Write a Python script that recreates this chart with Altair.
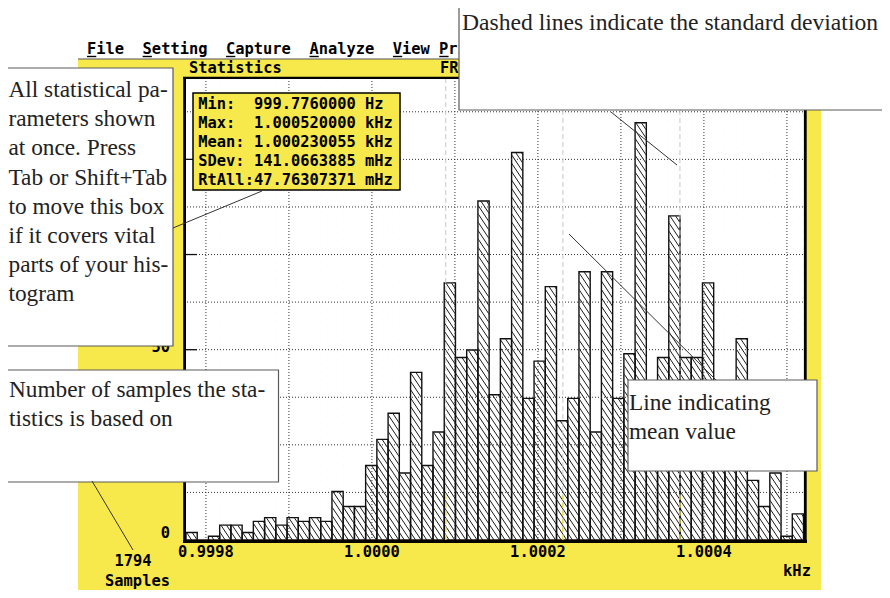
import altair as alt
import numpy as np
import pandas as pd

# ------------------------------------------------------------------ data
N_SAMPLES = 1794
MIN_HZ = 999.7760000
MAX_KHZ = 1.000520000
MEAN_KHZ = 1.000230055
SDEV_MHZ = 141.0663885
RTALL_MHZ = 47.76307371

# histogram counts per bin (55 bins from Min to Max)
COUNTS = [2, 0, 1, 4, 4, 2, 5, 6, 4, 6, 5, 6, 5, 13, 9, 9, 20, 27, 34, 18,
          45, 20, 29, 69, 49, 51, 91, 39, 54, 104, 38, 48, 68, 32, 38, 72,
          29, 72, 38, 50, 112, 20, 49, 87, 49, 49, 69, 19, 19, 54, 16, 9,
          18, 1, 7]
X_TICKS = [0.9998, 1.0000, 1.0002, 1.0004]
Y_TICKS = [0, 50]
MENU = ["File", "Setting", "Capture", "Analyze", "View", "Print"]

NOTE_PARAMS = ["All statistical pa-", "rameters shown", "at once. Press",
               "Tab or Shift+Tab", "to move this box", "if it covers vital",
               "parts of your his-", "togram"]
NOTE_SAMPLES = ["Number of samples the sta-", "tistics is based on"]
NOTE_MEAN = ["Line indicating", "mean value"]
NOTE_SDEV = "Dashed lines indicate the standard deviation"

# ------------------------------------------------------------------ layout
W, H = 620, 462
PAD = {"left": 178, "top": 70, "right": 76, "bottom": 50}
YELLOW = "#f7e84b"
MONO = "DejaVu Sans Mono"
SERIF = "Liberation Serif"
MONO_SIZE = 15.4
CHAR_W = 0.602 * MONO_SIZE
NOTE_SIZE = 23.3
NBSP = "\u00a0"
MIN_KHZ = MIN_HZ / 1000.0
X_DOMAIN = [MIN_KHZ, 1.000523]
Y_DOMAIN = [0, 124]
GRID_X_STEP = 0.0001
GRID_Y_STEP = 12.77
HATCH_SLOPE = 1.5
HATCH_STEP = 5.6

n_bins = len(COUNTS)
bin_w = (MAX_KHZ - MIN_KHZ) / n_bins
bars = pd.DataFrame({
    "x0": [MIN_KHZ + i * bin_w for i in range(n_bins)],
    "x1": [MIN_KHZ + (i + 1) * bin_w for i in range(n_bins)],
    "count": COUNTS,
    "base": 0.0,
    "top": float(Y_DOMAIN[1]),
})
tail = pd.DataFrame({"x0": [MAX_KHZ], "x1": [X_DOMAIN[1]], "y0": [0.0],
                     "y1": [float(Y_DOMAIN[1])]})

xs = alt.Scale(domain=X_DOMAIN, nice=False, zero=False)
ys = alt.Scale(domain=Y_DOMAIN, nice=False, zero=False)

# global hatch pattern ("\\\\"), screen-aligned, expressed in data units
cs = np.arange(-H / HATCH_SLOPE - HATCH_STEP, W + HATCH_STEP, HATCH_STEP)
kx = (X_DOMAIN[1] - X_DOMAIN[0]) / W
hatch = pd.DataFrame({
    "hx0": X_DOMAIN[0] + cs * kx,
    "hy0": np.full(len(cs), float(Y_DOMAIN[1])),
    "hx1": X_DOMAIN[0] + (cs + H / HATCH_SLOPE) * kx,
    "hy1": np.full(len(cs), float(Y_DOMAIN[0])),
})

grid_x = pd.DataFrame({"gx": [X_TICKS[0] + GRID_X_STEP * k for k in range(8)]})
grid_y = pd.DataFrame({"gy": [GRID_Y_STEP * k for k in range(1, 10)]})
major_y = pd.DataFrame({"gy": [GRID_Y_STEP * k for k in range(2, 10, 2)]})
sd_khz = SDEV_MHZ * 1e-6
stat_lines = pd.DataFrame({"sx": [MEAN_KHZ - sd_khz, MEAN_KHZ, MEAN_KHZ + sd_khz],
                           "y0": 0.0, "y1": 12.0})
x_labels = pd.DataFrame({"t": X_TICKS, "lab": [f"{v:.4f}" for v in X_TICKS]})
y_labels = pd.DataFrame({"t": Y_TICKS, "lab": [str(v) for v in Y_TICKS]})

DUMMY = pd.DataFrame({"k": [0]})


def mono(s):
    return s.replace(" ", NBSP)


def rect(x, y, x2, y2, fill, stroke=None, sw=0):
    kw = dict(fill=fill, strokeWidth=sw)
    if stroke:
        kw["stroke"] = stroke
    return alt.Chart(DUMMY).mark_rect(**kw).encode(
        x=alt.value(x), x2=alt.value(x2), y=alt.value(y), y2=alt.value(y2))


def seg(x, y, x2, y2, color, width):
    return alt.Chart(DUMMY).mark_rule(color=color, strokeWidth=width).encode(
        x=alt.value(x), x2=alt.value(x2), y=alt.value(y), y2=alt.value(y2))


def txt(x, y, lines, font, size, weight="normal", align="left",
        baseline="alphabetic", lh=None, color="#111"):
    kw = dict(text=lines, font=font, fontSize=size, fontWeight=weight,
              align=align, baseline=baseline, color=color)
    if lh:
        kw["lineHeight"] = lh
    return alt.Chart(DUMMY).mark_text(**kw).encode(x=alt.value(x), y=alt.value(y))


def dos(x, y, s, align="left"):
    return txt(x, y, mono(s), MONO, MONO_SIZE, "bold", align=align,
               baseline="middle", color="#000")


# menu string and hot-key underline positions
menu_str = " ".join(["  ".join(MENU[:5]), MENU[5]])
hot_idx = [i for i, c in enumerate(menu_str)
           if c != " " and (i == 0 or menu_str[i - 1] == " ")]
MENU_X = -99

stats_lines = [mono(s) for s in [
    f"Min:  {MIN_HZ:.7f} Hz",
    f"Max:  {MAX_KHZ:.9f} kHz",
    f"Mean: {MEAN_KHZ:.9f} kHz",
    f"SDev: {SDEV_MHZ:.7f} mHz",
    f"RtAll:{RTALL_MHZ:.8f} mHz",
]]

layers = []
# page areas outside the yellow DOS window
layers.append(rect(-178, -70, 696, -19, "white"))
layers.append(rect(-178, -19, -108, 520, "white"))
layers.append(rect(635, -19, 696, 520, "white"))
layers.append(seg(-108, -19, 635, -19, "#555555", 1.2))
# menu bar + window title
layers.append(dos(MENU_X, -29, menu_str))
for i in hot_idx:
    layers.append(seg(MENU_X + i * CHAR_W, -21.5, MENU_X + (i + 1) * CHAR_W, -21.5, "#000", 1.4))
layers.append(dos(3, -10, "Statistics"))
layers.append(dos(254, -10, "FREQUENCY"))
# y tick labels (partly hidden by the notes, as in the original)
layers.append(alt.Chart(y_labels).mark_text(
    font=MONO, fontSize=MONO_SIZE, fontWeight="bold", align="right",
    baseline="middle", color="#000", dy=-7).encode(
    x=alt.value(-16), y=alt.Y("t:Q", scale=ys, axis=None), text="lab:N"))
# x tick labels
layers.append(alt.Chart(x_labels).mark_text(
    font=MONO, fontSize=MONO_SIZE, fontWeight="bold", align="center",
    baseline="top", color="#000").encode(
    x=alt.X("t:Q", scale=xs, axis=None), y=alt.value(H + 5), text="lab:N"))
# plot background
layers.append(rect(0, 0, W, H, "white"))

# hatch everywhere, then white covers above each bar
layers.append(alt.Chart(hatch).mark_rule(color="#1a1a1a", strokeWidth=1, clip=True).encode(
    x=alt.X("hx0:Q", scale=xs, axis=None), y=alt.Y("hy0:Q", scale=ys, axis=None),
    x2="hx1:Q", y2="hy1:Q"))
layers.append(alt.Chart(bars).mark_rect(fill="white", stroke="white", strokeWidth=0.8).encode(
    x=alt.X("x0:Q", scale=xs, axis=None), x2="x1:Q",
    y=alt.Y("count:Q", scale=ys, axis=None), y2="top:Q"))
layers.append(alt.Chart(tail).mark_rect(fill="white").encode(
    x=alt.X("x0:Q", scale=xs, axis=None), x2="x1:Q",
    y=alt.Y("y0:Q", scale=ys, axis=None), y2="y1:Q"))
# bar outlines
layers.append(alt.Chart(bars).mark_rect(fillOpacity=0, stroke="#111111", strokeWidth=1.4).encode(
    x=alt.X("x0:Q", scale=xs, axis=None), x2="x1:Q",
    y=alt.Y("count:Q", scale=ys, axis=None), y2="base:Q"))
# dotted grid over the bars
layers.append(alt.Chart(grid_x).mark_rule(color="#333333", strokeWidth=1, strokeDash=[1, 2]).encode(
    x=alt.X("gx:Q", scale=xs, axis=None)))
layers.append(alt.Chart(grid_y).mark_rule(color="#333333", strokeWidth=1, strokeDash=[1, 2]).encode(
    y=alt.Y("gy:Q", scale=ys, axis=None)))
layers.append(alt.Chart(major_y).mark_rule(color="#111111", strokeWidth=1.3).encode(
    x=alt.value(0), x2=alt.value(11), y=alt.Y("gy:Q", scale=ys, axis=None)))
# mean and +/- sdev dashed lines
layers.append(alt.Chart(stat_lines).mark_rule(color="#c8c8c8", strokeWidth=1, strokeDash=[5, 3]).encode(
    x=alt.X("sx:Q", scale=xs, axis=None)))
layers.append(alt.Chart(stat_lines).mark_rule(color="#f2dc2a", strokeWidth=1.2, strokeDash=[5, 3]).encode(
    x=alt.X("sx:Q", scale=xs, axis=None), y=alt.Y("y0:Q", scale=ys, axis=None), y2="y1:Q"))
# thick frame
layers.append(seg(-1.4, -1, -1.4, 465, "#000", 2.8))
layers.append(seg(-3, 463.4, 621, 463.4, "#000", 3))
layers.append(seg(619.3, -1, 619.3, 465, "#000", 2.8))
layers.append(seg(-3, -0.2, 621, -0.2, "#000", 2.2))
# statistics box
layers.append(rect(7, 15, 214, 112, YELLOW, "#000", 1.5))
layers.append(txt(12.3, 26, stats_lines, MONO, MONO_SIZE, "bold", baseline="middle",
                  lh=19, color="#000"))
# bottom texts
layers.append(dos(611, 492.5, "kHz", align="center"))
layers.append(dos(-53, 483, str(N_SAMPLES), align="center"))
layers.append(dos(-48.5, 502.5, "Samples", align="center"))
# annotation boxes
BOX_LINE = "#5a5a5a"
layers.append(rect(273, -79, 698, 32, "white", BOX_LINE, 1.2))
layers.append(txt(276, -48, NOTE_SDEV, SERIF, 23.6, color="#222"))
layers.append(rect(-180, -10, -13, 268, "white", BOX_LINE, 1.2))
layers.append(txt(-177.5, 19.3, NOTE_PARAMS, SERIF, NOTE_SIZE, lh=29.1, color="#222"))
layers.append(rect(-186, 292, 92.5, 404, "white", BOX_LINE, 1.2))
layers.append(txt(-177, 319, NOTE_SAMPLES, SERIF, NOTE_SIZE, lh=29.1, color="#222"))
layers.append(rect(442, 302, 631, 393, "white", BOX_LINE, 1.2))
layers.append(txt(443, 332, NOTE_MEAN, SERIF, NOTE_SIZE, lh=28.5, color="#222"))
# leader lines
LEAD = "#333333"
layers.append(seg(-13, 150, 76, 113, LEAD, 1))
layers.append(seg(-94, 403, -53, 472, LEAD, 1))
layers.append(seg(425, 34, 491, 87, LEAD, 1))
layers.append(seg(383, 156, 530, 302, LEAD, 1))

chart = alt.layer(*layers).properties(
    width=W, height=H,
    padding=PAD,
    autosize=alt.AutoSizeParams(type="none"),
    background=YELLOW,
).configure_view(strokeWidth=0)

chart.save("out.html", embed_options={"renderer": "svg", "actions": False})
